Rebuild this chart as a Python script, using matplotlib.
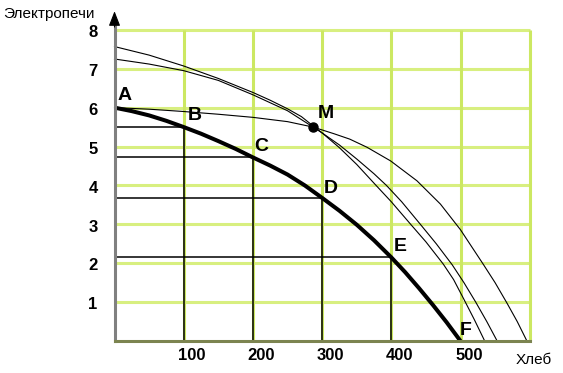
import matplotlib
matplotlib.use("Agg")
import matplotlib.pyplot as plt

# ---- data ----
x_ticks = [100, 200, 300, 400, 500]
x_tick_labels = ["100", "200", "300", "400", "500"]
y_ticks = [1, 2, 3, 4, 5, 6, 7, 8]
y_tick_labels = ["1", "2", "3", "4", "5", "6", "7", "8"]
grid_x = [100, 200, 300, 400, 500, 600]
grid_y = [1, 2, 3, 4, 5, 6, 7, 8]

# bold production possibilities frontier (read every ~25 units)
ppf_x = [0, 25, 50, 75, 100, 125, 150, 175, 200, 225, 250, 275, 300,
         325, 350, 375, 400, 420, 440, 460, 480, 500]
ppf_y = [6.0, 5.91, 5.8, 5.66, 5.5, 5.33, 5.14, 4.94, 4.72, 4.51, 4.28, 4.0, 3.68,
         3.35, 2.99, 2.59, 2.15, 1.77, 1.36, 0.93, 0.48, 0.0]

# labelled points A..F
pt_names = ["A", "B", "C", "D", "E", "F"]
pt_x = [0, 100, 200, 300, 400, 500]
pt_y = [6.0, 5.5, 4.72, 3.68, 2.15, 0.0]

# thin curve through A and M (outermost at right)
c1_x = [0, 50, 100, 150, 200, 250, 287, 317, 340, 365, 399, 437, 471, 500,
        533, 550, 567, 582, 596]
c1_y = [6.0, 5.96, 5.9, 5.83, 5.75, 5.64, 5.5, 5.33, 5.19, 4.98, 4.63, 4.12, 3.52, 2.86,
        1.97, 1.5, 0.98, 0.5, 0.0]
# thin curve starting at 7.57 (inner at right, ends at ~535)
c2_x = [0, 50, 100, 150, 200, 225, 250, 270, 287, 300, 325, 350, 378, 400,
        428, 450, 475, 490, 505, 520, 535]
c2_y = [7.57, 7.35, 7.07, 6.75, 6.39, 6.19, 5.97, 5.77, 5.53, 5.35, 4.97, 4.54, 4.0, 3.58,
        3.0, 2.55, 1.98, 1.58, 1.07, 0.55, 0.0]
# thin curve starting at 7.25 (middle at right, ends at ~553)
c3_x = [0, 50, 100, 150, 200, 250, 287, 300, 325, 350, 375, 393, 415,
        442, 465, 488, 505, 522, 538, 553]
c3_y = [7.25, 7.12, 6.95, 6.7, 6.33, 5.92, 5.5, 5.35, 5.04, 4.68, 4.3, 4.0, 3.58,
        3.0, 2.5, 1.96, 1.5, 1.0, 0.5, 0.0]

m_x, m_y = 287, 5.5

# label positions (text anchors)
lab_x = [15, 116, 212, 313, 413, 508]
lab_y = [6.32, 5.81, 5.01, 3.93, 2.44, 0.28]
m_lab_x, m_lab_y = 305, 5.86

y_axis_title = "Электропечи"
x_axis_title = "Хлеб"

# ---- figure ----
W, H = 563, 373
fig = plt.figure(figsize=(W / 100, H / 100), dpi=100)
x0, x1 = -10, 625
y0, y1 = -0.3, 8.7
ax = fig.add_axes([107.6 / W, (H - 352.7) / H, (547 - 107.6) / W, (352.7 - 2.6) / H])
ax.set_xlim(x0, x1)
ax.set_ylim(y0, y1)
ax.axis("off")

ax.hlines(grid_y, 0, 600, colors="#d8ef80", lw=2.2, zorder=1)
ax.vlines(grid_x, 0, 8, colors="#cce862", lw=2.2, zorder=1)

# drop lines from B..E
for xv, yv in zip(pt_x[1:5], pt_y[1:5]):
    ax.plot([0, xv], [yv, yv], color="black", lw=1.1, zorder=2)
    ax.plot([xv, xv], [0, yv], color="black", lw=1.1, zorder=2)

# curves
for cx, cy in ((c1_x, c1_y), (c2_x, c2_y), (c3_x, c3_y)):
    ax.plot(cx, cy, color="black", lw=0.8, zorder=3, solid_joinstyle="round")
ax.plot(ppf_x, ppf_y, color="black", lw=2.9, zorder=4, solid_capstyle="butt",
        solid_joinstyle="round")

# axes with arrows
ax.plot([0, 0], [0, 8.2], color="#808080", lw=2.2, zorder=5)
ax.plot([0, 600], [0, 0], color="#7c8450", lw=2.2, zorder=5)
ax.annotate("", xy=(0, 8.55), xytext=(0, 8.0),
            arrowprops=dict(arrowstyle="-|>,head_length=0.9,head_width=0.35",
                            color="black", lw=0.8), zorder=6)
ax.annotate("", xy=(626, 0), xytext=(590, 0),
            arrowprops=dict(arrowstyle="-|>,head_length=0.9,head_width=0.35",
                            color="black", lw=0.8), zorder=6)

# point M
ax.plot([m_x], [m_y], "o", color="black", ms=6.5, zorder=7)

# labels
for name, lx, ly in zip(pt_names, lab_x, lab_y):
    ax.text(lx, ly, name, fontsize=14, fontweight="bold", ha="center", va="center",
            family="Liberation Sans", zorder=8)
ax.text(m_lab_x, m_lab_y, "M", fontsize=14, fontweight="bold", ha="center", va="center",
        family="Liberation Sans", zorder=8)

# tick labels
for t, s in zip(y_ticks, y_tick_labels):
    ax.text(-31, t - 0.07, s, fontsize=12, fontweight="bold", ha="center", va="center",
            family="Liberation Sans")
for t, s in zip(x_ticks, x_tick_labels):
    ax.text(t + 12, -0.36, s, fontsize=12, fontweight="bold", ha="center", va="center",
            family="Liberation Sans")

# axis titles
fig.text(3 / W, 1 - 14 / H, y_axis_title, fontsize=11, ha="left", va="center",
         family="Liberation Sans")
fig.text(516 / W, 1 - 360 / H, x_axis_title, fontsize=11, ha="left", va="center",
         family="Liberation Sans")

fig.savefig("out.png", dpi=100)
